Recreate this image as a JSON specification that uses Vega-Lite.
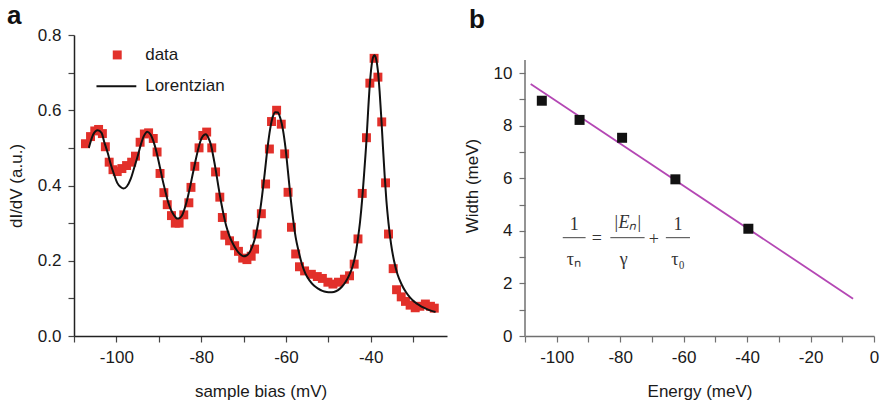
{
  "$schema": "https://vega.github.io/schema/vega-lite/v6.json",
  "padding": {"left": 7, "top": 3, "right": 6, "bottom": 2},
  "spacing": 16,
  "config": {
    "view": {"stroke": null},
    "font": "Liberation Sans",
    "axis": {
      "grid": false,
      "labelFont": "Liberation Sans",
      "titleFont": "Liberation Sans",
      "labelFontSize": 17,
      "titleFontSize": 17,
      "titleFontWeight": "normal",
      "labelColor": "#1a1a1a",
      "titleColor": "#1a1a1a",
      "tickSize": 6,
      "labelPadding": 7,
      "titlePadding": 12,
      "domainWidth": 1.5,
      "tickWidth": 1.2,
      "labelFlush": false,
      "labelOverlap": false
    }
  },
  "datasets": {
    "measured": [
      {"x": -107.3, "y": 0.511}, {"x": -106.1, "y": 0.530}, {"x": -105.1, "y": 0.545}, {"x": -104.2, "y": 0.549},
      {"x": -103.3, "y": 0.538}, {"x": -102.6, "y": 0.503}, {"x": -101.7, "y": 0.462}, {"x": -100.8, "y": 0.442},
      {"x": -99.8, "y": 0.437}, {"x": -98.7, "y": 0.445}, {"x": -97.6, "y": 0.453}, {"x": -96.4, "y": 0.462},
      {"x": -95.5, "y": 0.478}, {"x": -94.4, "y": 0.515}, {"x": -93.4, "y": 0.537}, {"x": -92.4, "y": 0.540},
      {"x": -91.3, "y": 0.525}, {"x": -90.4, "y": 0.489}, {"x": -89.7, "y": 0.432}, {"x": -88.8, "y": 0.381},
      {"x": -88.0, "y": 0.349}, {"x": -87.0, "y": 0.320}, {"x": -86.1, "y": 0.300}, {"x": -85.2, "y": 0.300},
      {"x": -84.1, "y": 0.322}, {"x": -82.9, "y": 0.354}, {"x": -82.4, "y": 0.395}, {"x": -81.5, "y": 0.451},
      {"x": -80.5, "y": 0.500}, {"x": -79.6, "y": 0.533}, {"x": -78.7, "y": 0.542}, {"x": -77.5, "y": 0.500},
      {"x": -76.6, "y": 0.436}, {"x": -75.6, "y": 0.369}, {"x": -75.0, "y": 0.315}, {"x": -74.4, "y": 0.268},
      {"x": -73.3, "y": 0.253}, {"x": -72.1, "y": 0.240}, {"x": -71.2, "y": 0.225}, {"x": -70.2, "y": 0.207},
      {"x": -69.2, "y": 0.203}, {"x": -68.2, "y": 0.212}, {"x": -67.4, "y": 0.231}, {"x": -66.8, "y": 0.271},
      {"x": -65.8, "y": 0.325}, {"x": -64.8, "y": 0.404}, {"x": -63.9, "y": 0.497}, {"x": -63.4, "y": 0.570},
      {"x": -62.2, "y": 0.600}, {"x": -61.1, "y": 0.563}, {"x": -60.3, "y": 0.484}, {"x": -59.5, "y": 0.382},
      {"x": -58.7, "y": 0.289}, {"x": -57.7, "y": 0.218}, {"x": -56.8, "y": 0.184}, {"x": -55.6, "y": 0.173},
      {"x": -54.0, "y": 0.164}, {"x": -52.6, "y": 0.158}, {"x": -51.4, "y": 0.153}, {"x": -50.1, "y": 0.143},
      {"x": -48.9, "y": 0.138}, {"x": -47.6, "y": 0.143}, {"x": -46.2, "y": 0.151}, {"x": -45.0, "y": 0.160},
      {"x": -43.9, "y": 0.191}, {"x": -43.0, "y": 0.258}, {"x": -42.0, "y": 0.379}, {"x": -41.0, "y": 0.527},
      {"x": -40.2, "y": 0.672}, {"x": -39.2, "y": 0.738}, {"x": -38.3, "y": 0.688}, {"x": -37.4, "y": 0.569},
      {"x": -36.5, "y": 0.407}, {"x": -35.8, "y": 0.271}, {"x": -34.7, "y": 0.179}, {"x": -33.9, "y": 0.123},
      {"x": -32.8, "y": 0.104}, {"x": -31.8, "y": 0.092}, {"x": -30.7, "y": 0.082}, {"x": -29.5, "y": 0.075},
      {"x": -28.4, "y": 0.079}, {"x": -27.1, "y": 0.085}, {"x": -25.9, "y": 0.079}, {"x": -25.0, "y": 0.074}
    ],
    "lorentzian": [
      {"x": -106.5, "y": 0.500}, {"x": -105.5, "y": 0.535}, {"x": -104.4, "y": 0.547}, {"x": -103.5, "y": 0.540},
      {"x": -102.9, "y": 0.517}, {"x": -102.0, "y": 0.485}, {"x": -101.3, "y": 0.455}, {"x": -100.5, "y": 0.428},
      {"x": -99.8, "y": 0.407}, {"x": -99.0, "y": 0.396}, {"x": -98.3, "y": 0.392}, {"x": -97.5, "y": 0.398},
      {"x": -96.6, "y": 0.418}, {"x": -95.8, "y": 0.447}, {"x": -95.0, "y": 0.477}, {"x": -94.2, "y": 0.510},
      {"x": -93.5, "y": 0.532}, {"x": -92.7, "y": 0.543}, {"x": -91.9, "y": 0.535}, {"x": -91.1, "y": 0.512},
      {"x": -90.3, "y": 0.478}, {"x": -89.7, "y": 0.447}, {"x": -89.1, "y": 0.415}, {"x": -88.5, "y": 0.387},
      {"x": -87.9, "y": 0.360}, {"x": -87.3, "y": 0.340}, {"x": -86.7, "y": 0.326}, {"x": -86.0, "y": 0.315},
      {"x": -85.6, "y": 0.312}, {"x": -85.0, "y": 0.314}, {"x": -84.4, "y": 0.323}, {"x": -83.8, "y": 0.342},
      {"x": -83.2, "y": 0.367}, {"x": -82.6, "y": 0.397}, {"x": -82.0, "y": 0.430}, {"x": -81.4, "y": 0.462},
      {"x": -80.8, "y": 0.492}, {"x": -80.2, "y": 0.517}, {"x": -79.6, "y": 0.531}, {"x": -78.9, "y": 0.536},
      {"x": -78.3, "y": 0.527}, {"x": -77.7, "y": 0.508}, {"x": -77.1, "y": 0.475}, {"x": -76.5, "y": 0.437},
      {"x": -75.9, "y": 0.395}, {"x": -75.3, "y": 0.356}, {"x": -74.7, "y": 0.322}, {"x": -74.1, "y": 0.293},
      {"x": -73.3, "y": 0.265}, {"x": -72.5, "y": 0.245}, {"x": -71.6, "y": 0.228}, {"x": -70.8, "y": 0.217},
      {"x": -70.0, "y": 0.212}, {"x": -69.3, "y": 0.214}, {"x": -68.6, "y": 0.222}, {"x": -68.0, "y": 0.236},
      {"x": -67.4, "y": 0.256}, {"x": -66.8, "y": 0.285}, {"x": -66.2, "y": 0.325}, {"x": -65.6, "y": 0.375},
      {"x": -65.0, "y": 0.433}, {"x": -64.3, "y": 0.504}, {"x": -63.7, "y": 0.552}, {"x": -63.1, "y": 0.583},
      {"x": -62.5, "y": 0.595}, {"x": -61.9, "y": 0.594}, {"x": -61.3, "y": 0.578}, {"x": -60.7, "y": 0.548},
      {"x": -60.1, "y": 0.500}, {"x": -59.5, "y": 0.435}, {"x": -58.9, "y": 0.368}, {"x": -58.3, "y": 0.310},
      {"x": -57.7, "y": 0.262}, {"x": -57.0, "y": 0.225}, {"x": -56.2, "y": 0.190}, {"x": -55.4, "y": 0.166},
      {"x": -54.4, "y": 0.147}, {"x": -53.4, "y": 0.134}, {"x": -52.4, "y": 0.126}, {"x": -51.4, "y": 0.120},
      {"x": -50.4, "y": 0.117}, {"x": -49.6, "y": 0.116}, {"x": -48.7, "y": 0.117}, {"x": -47.7, "y": 0.122},
      {"x": -46.8, "y": 0.131}, {"x": -45.9, "y": 0.144}, {"x": -45.1, "y": 0.161}, {"x": -44.3, "y": 0.184},
      {"x": -43.6, "y": 0.216}, {"x": -43.0, "y": 0.260}, {"x": -42.5, "y": 0.305}, {"x": -42.0, "y": 0.365},
      {"x": -41.5, "y": 0.440}, {"x": -41.0, "y": 0.520}, {"x": -40.6, "y": 0.600}, {"x": -40.2, "y": 0.670},
      {"x": -39.8, "y": 0.718}, {"x": -39.4, "y": 0.742}, {"x": -39.1, "y": 0.746}, {"x": -38.7, "y": 0.735},
      {"x": -38.3, "y": 0.705}, {"x": -37.9, "y": 0.650}, {"x": -37.5, "y": 0.580}, {"x": -37.1, "y": 0.500},
      {"x": -36.7, "y": 0.425}, {"x": -36.3, "y": 0.360}, {"x": -35.8, "y": 0.300}, {"x": -35.2, "y": 0.245},
      {"x": -34.5, "y": 0.200}, {"x": -33.7, "y": 0.165}, {"x": -32.7, "y": 0.137}, {"x": -31.7, "y": 0.117},
      {"x": -30.7, "y": 0.102}, {"x": -29.6, "y": 0.090}, {"x": -28.4, "y": 0.081}, {"x": -27.2, "y": 0.074},
      {"x": -26.0, "y": 0.068}, {"x": -24.7, "y": 0.064}
    ],
    "legendSwatch": [{"x": -99.8, "y": 0.747}],
    "legendLine": [{"x": -104.7, "y": 0.664}, {"x": -95.3, "y": 0.664}],
    "legendText": [{"x": -93.2, "y": 0.747, "t": "data"}, {"x": -93.2, "y": 0.664, "t": "Lorentzian"}],
    "widths": [
      {"x": -104.7, "y": 8.95}, {"x": -92.8, "y": 8.22}, {"x": -79.4, "y": 7.54}, {"x": -62.6, "y": 5.96}, {"x": -39.6, "y": 4.08}
    ],
    "fit": [{"x": -108.2, "y": 9.59}, {"x": -6.6, "y": 1.42}],
    "yAxisLine": [{"x": -110, "y": 0, "y2": 10.5}],
    "fracBars": [
      {"x": -98.1, "x2": -90.9, "y": 3.74}, {"x": -83.1, "x2": -72.3, "y": 3.74}, {"x": -65.6, "x2": -58.0, "y": 3.74}
    ],
    "formulaText": [
      {"x": -94.5, "y": 4.24, "t": "1"}, {"x": -94.6, "y": 2.88, "t": "τₙ"}, {"x": -87.4, "y": 3.68, "t": "="},
      {"x": -78.9, "y": 2.91, "t": "γ"}, {"x": -69.4, "y": 3.66, "t": "+"}, {"x": -61.8, "y": 4.24, "t": "1"},
      {"x": -61.8, "y": 2.88, "t": "τ₀"}
    ],
    "formulaItalic": [{"x": -77.7, "y": 4.3, "t": "|Eₙ|"}]
  },
  "hconcat": [
    {
      "width": 373,
      "height": 301,
      "title": {"text": "a", "anchor": "start", "frame": "group", "dx": -67, "fontSize": 26, "fontWeight": "bold", "font": "Liberation Sans", "color": "#111", "offset": -3},
      "encoding": {
        "x": {
          "field": "x", "type": "quantitative",
          "scale": {"domain": [-110, -22], "nice": false, "zero": false},
          "axis": {
            "title": "sample bias (mV)",
            "titlePadding": 18,
            "values": [-110, -100, -90, -80, -70, -60, -50, -40, -30],
            "labelExpr": "datum.value % 20 == 0 ? '' + datum.value : ''",
            "domainColor": "#222", "tickColor": "#444"
          }
        },
        "y": {
          "field": "y", "type": "quantitative",
          "scale": {"domain": [0, 0.8], "nice": false, "zero": false},
          "axis": {
            "title": "dI/dV (a.u.)",
            "values": [0, 0.1, 0.2, 0.3, 0.4, 0.5, 0.6, 0.7, 0.8],
            "labelExpr": "round(datum.value * 10) % 2 == 0 ? format(datum.value, '.1f') : ''",
            "domainColor": "#222", "tickColor": "#444"
          }
        }
      },
      "layer": [
        {"data": {"name": "measured"}, "mark": {"type": "point", "shape": "square", "filled": true, "size": 80, "color": "#e2302a", "opacity": 1}},
        {"data": {"name": "lorentzian"}, "mark": {"type": "line", "color": "#111", "strokeWidth": 2, "interpolate": "monotone"}},
        {"data": {"name": "legendSwatch"}, "mark": {"type": "point", "shape": "square", "filled": true, "size": 80, "color": "#e2302a", "opacity": 1}},
        {"data": {"name": "legendLine"}, "mark": {"type": "line", "color": "#111", "strokeWidth": 2}},
        {"data": {"name": "legendText"}, "mark": {"type": "text", "align": "left", "baseline": "middle", "fontSize": 17, "font": "Liberation Sans", "color": "#1a1a1a"}, "encoding": {"text": {"field": "t"}}}
      ]
    },
    {
      "width": 349,
      "height": 301,
      "title": {"text": "b", "anchor": "start", "frame": "group", "dx": -56, "fontSize": 26, "fontWeight": "bold", "font": "Liberation Sans", "color": "#111", "offset": 2},
      "encoding": {
        "x": {
          "field": "x", "type": "quantitative",
          "scale": {"domain": [-110, 0], "nice": false, "zero": false},
          "axis": {
            "title": "Energy (meV)",
            "titlePadding": 18,
            "values": [-110, -100, -90, -80, -70, -60, -50, -40, -30, -20, -10, 0],
            "labelExpr": "datum.value % 20 == 0 ? '' + datum.value : ''",
            "domainColor": "#707070", "tickColor": "#707070"
          }
        },
        "y": {
          "field": "y", "type": "quantitative",
          "scale": {"domain": [0, 11.45], "nice": false, "zero": false},
          "axis": {
            "title": "Width (meV)",
            "domain": false,
            "values": [0, 1, 2, 3, 4, 5, 6, 7, 8, 9, 10],
            "labelExpr": "datum.value % 2 == 0 ? '' + datum.value : ''",
            "tickColor": "#707070"
          }
        }
      },
      "layer": [
        {"data": {"name": "yAxisLine"}, "mark": {"type": "rule", "color": "#707070", "strokeWidth": 1.5}, "encoding": {"y2": {"field": "y2"}}},
        {"data": {"name": "fit"}, "mark": {"type": "line", "color": "#b447b4", "strokeWidth": 1.8}},
        {"data": {"name": "widths"}, "mark": {"type": "point", "shape": "square", "filled": true, "size": 100, "color": "#111", "opacity": 1}},
        {"data": {"name": "fracBars"}, "mark": {"type": "rule", "color": "#444", "strokeWidth": 1}, "encoding": {"x2": {"field": "x2"}}},
        {"data": {"name": "formulaText"}, "mark": {"type": "text", "align": "center", "baseline": "middle", "fontSize": 18, "font": "Liberation Serif", "color": "#333"}, "encoding": {"text": {"field": "t"}}},
        {"data": {"name": "formulaItalic"}, "mark": {"type": "text", "align": "center", "baseline": "middle", "fontSize": 18, "font": "Liberation Serif", "fontStyle": "italic", "color": "#333"}, "encoding": {"text": {"field": "t"}}}
      ]
    }
  ]
}
